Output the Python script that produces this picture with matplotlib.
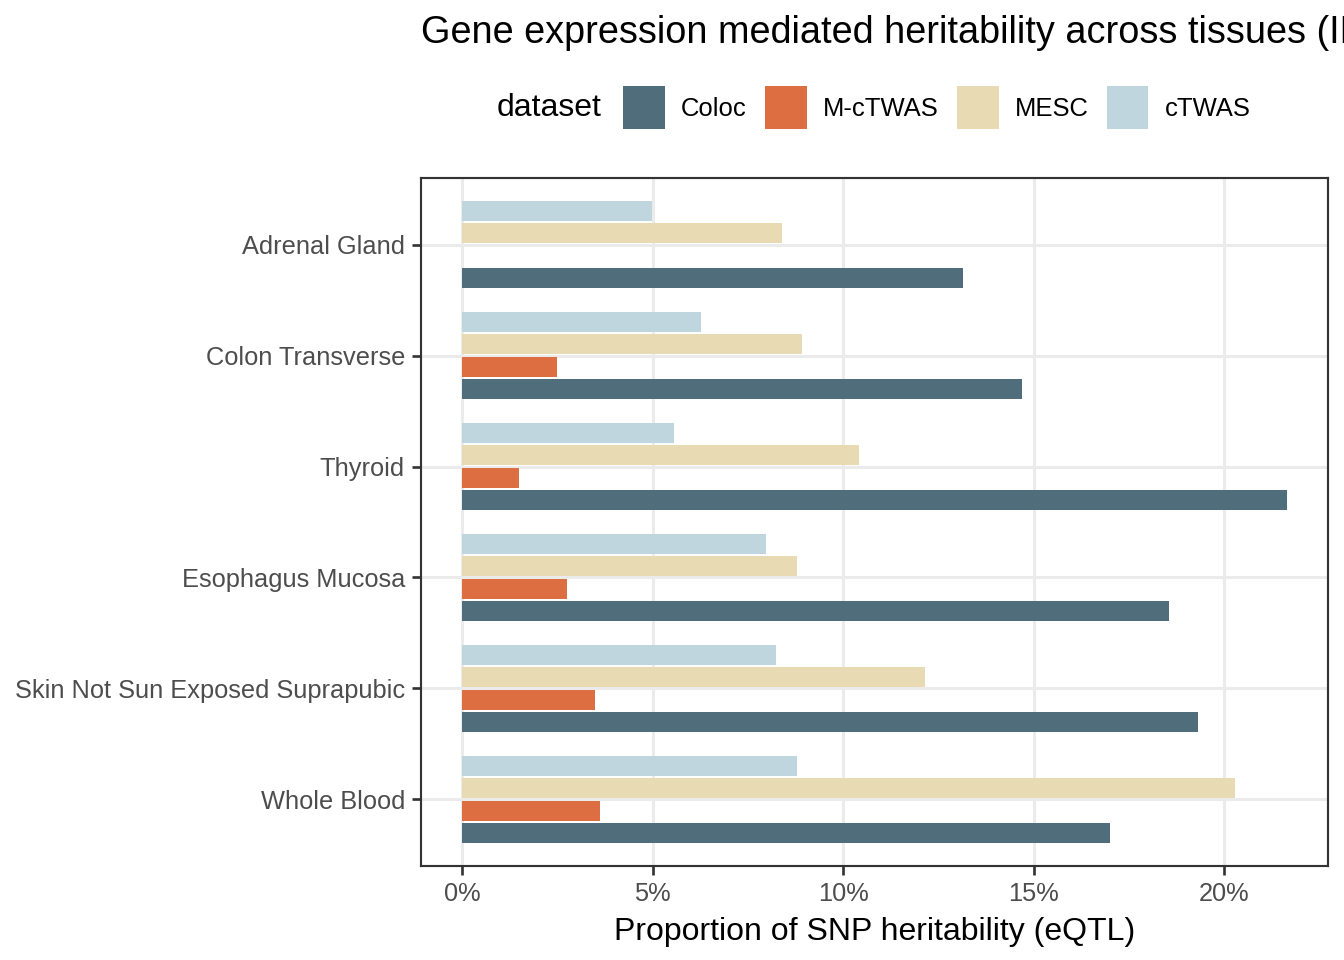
import numpy as np
import matplotlib
matplotlib.use("Agg")
import matplotlib.pyplot as plt
from matplotlib.ticker import FuncFormatter

plt.rcParams['font.family'] = ['Liberation Sans', 'DejaVu Sans']

tissues = ["Adrenal Gland", "Colon Transverse", "Thyroid", "Esophagus Mucosa",
           "Skin Not Sun Exposed Suprapubic", "Whole Blood"]
datasets = ["Coloc", "M-cTWAS", "MESC", "cTWAS"]
colors = {"Coloc": "#4F6D7A", "M-cTWAS": "#DD6E42", "MESC": "#E8DAB2", "cTWAS": "#C0D6DF"}

coloc = [13.15, 14.70, 21.65, 18.55, 19.32, 17.01]
mctwas = [np.nan, 2.49, 1.49, 2.75, 3.48, 3.62]
mesc = [8.41, 8.93, 10.43, 8.78, 12.15, 20.29]
ctwas = [4.98, 6.28, 5.57, 7.97, 8.25, 8.78]
values = {"Coloc": coloc, "M-cTWAS": mctwas, "MESC": mesc, "cTWAS": ctwas}
offsets = {"Coloc": 0.3, "M-cTWAS": 0.1, "MESC": -0.1, "cTWAS": -0.3}

fig = plt.figure(figsize=(7, 5), dpi=192)
ax = fig.add_axes([0.3132, 0.0979, 0.9881 - 0.3132, 0.8146 - 0.0979])

ypos = np.arange(len(tissues))
handles = []
for d in datasets:
    v = np.array(values[d], dtype=float)
    mask = ~np.isnan(v)
    h = ax.barh(ypos[mask] + offsets[d], v[mask], height=0.18, color=colors[d],
                label=d, zorder=2)
    handles.append(h)

ax.set_xlim(-1.08, 22.73)
ax.set_ylim(5.6, -0.6)
ax.set_xticks([0, 5, 10, 15, 20])
ax.xaxis.set_major_formatter(FuncFormatter(lambda x, p: f"{x:g}%"))
ax.set_yticks(ypos)
ax.set_yticklabels(tissues)

ax.grid(True, color="#EBEBEB", linewidth=1.16, zorder=0)
ax.set_axisbelow(True)
for s in ax.spines.values():
    s.set_color("#333333")
    s.set_linewidth(0.8)
ax.tick_params(axis='both', colors="#333333", length=3.5, width=1.0,
               labelsize=9.5, labelcolor="#4D4D4D", pad=2.5)

ax.set_xlabel("Proportion of SNP heritability (eQTL)", fontsize=12, color="black", labelpad=4)

fig.text(0.3132, 1 - 43 / 960, "Gene expression mediated heritability across tissues (IBD)",
         fontsize=14.2, ha='left', va='baseline', color="black")

leg = fig.legend(handles=handles, labels=datasets, ncol=4, loc='center',
                 bbox_to_anchor=(0.697, 0.888), frameon=False, fontsize=9.6,
                 handlelength=1.64, handleheight=2.15, handletextpad=0.63,
                 columnspacing=0.70, borderpad=0)
fig.text(0.4089, 0.888, "dataset", fontsize=12, ha='center', va='center', color="black")

fig.savefig("out.png", dpi=192)
